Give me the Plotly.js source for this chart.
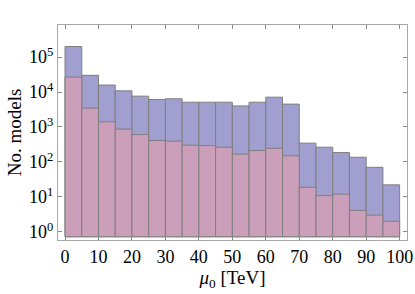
<!DOCTYPE html>
<html>
<head>
<meta charset="utf-8">
<script src="https://cdn.plot.ly/plotly-3.0.1.min.js"></script>
<style>html,body{margin:0;padding:0;background:#fff;}#chart{width:415px;height:294px;}</style>
</head>
<body>
<div id="chart"></div>
<script>
// Bin centres (μ0 in TeV, bins of width 5)
const binCenters = [2.5, 7.5, 12.5, 17.5, 22.5, 27.5, 32.5, 37.5, 42.5, 47.5,
                    52.5, 57.5, 62.5, 67.5, 72.5, 77.5, 82.5, 87.5, 92.5, 97.5];
// All models (blue histogram)
const allModels = [200000, 30000, 15800, 10800, 7600, 6100, 6400, 5100, 5100, 5100,
                   4000, 5100, 7100, 4500, 344, 263, 185, 136, 70, 22];
// Subset (pink histogram)
const subsetModels = [26700, 3460, 1400, 865, 605, 410, 392, 301, 293, 263,
                      166, 211, 245, 149, 18.8, 10.8, 11.9, 4.1, 3.0, 2.0];
const yTickVals = [1, 10, 100, 1000, 10000, 100000];
const yTickText = ['10<sup>0</sup>', '10<sup>1</sup>', '10<sup>2</sup>', '10<sup>3</sup>', '10<sup>4</sup>', '10<sup>5</sup>'];
const xTickVals = [0, 10, 20, 30, 40, 50, 60, 70, 80, 90, 100];
// Bars in the original start slightly below 10^0
const barBase = 0.72;

const edge = {color: '#7f7f7f', width: 1};
const traces = [
  {type: 'bar', x: binCenters, y: allModels.map(v => v - barBase), base: barBase, width: 5,
   marker: {color: '#a09fcf', line: edge}, hoverinfo: 'x'},
  {type: 'bar', x: binCenters, y: subsetModels.map(v => v - barBase), base: barBase, width: 5,
   marker: {color: '#cb9eba', line: edge}, hoverinfo: 'x'}
];
const font = {family: '"Liberation Serif", "Times New Roman", serif', color: '#000'};
const layout = {
  width: 415, height: 294,
  margin: {l: 58, r: 8, t: 25, b: 54},
  barmode: 'overlay',
  showlegend: false,
  paper_bgcolor: '#fff', plot_bgcolor: '#fff',
  font: Object.assign({size: 18}, font),
  xaxis: {
    range: [-2.1, 102.2],
    tickvals: xTickVals,
    ticks: 'inside', ticklen: 4, tickcolor: '#888',
    showline: true, linecolor: '#a8a8a8', linewidth: 1, mirror: 'allticks',
    showgrid: false, zeroline: false,
    tickfont: Object.assign({size: 18}, font),
    title: {text: '<i>μ</i><sub>0</sub> [TeV]', font: Object.assign({size: 19}, font), standoff: 4}
  },
  yaxis: {
    type: 'log',
    range: [-0.235, 5.917],
    tickvals: yTickVals, ticktext: yTickText,
    ticks: 'inside', ticklen: 4, tickcolor: '#888',
    showline: true, linecolor: '#a8a8a8', linewidth: 1, mirror: 'allticks',
    showgrid: false, zeroline: false,
    tickfont: Object.assign({size: 18}, font),
    title: {text: 'No. models', font: Object.assign({size: 19}, font), standoff: 2}
  }
};
Plotly.newPlot('chart', traces, layout, {displayModeBar: false});
</script>
</body>
</html>
